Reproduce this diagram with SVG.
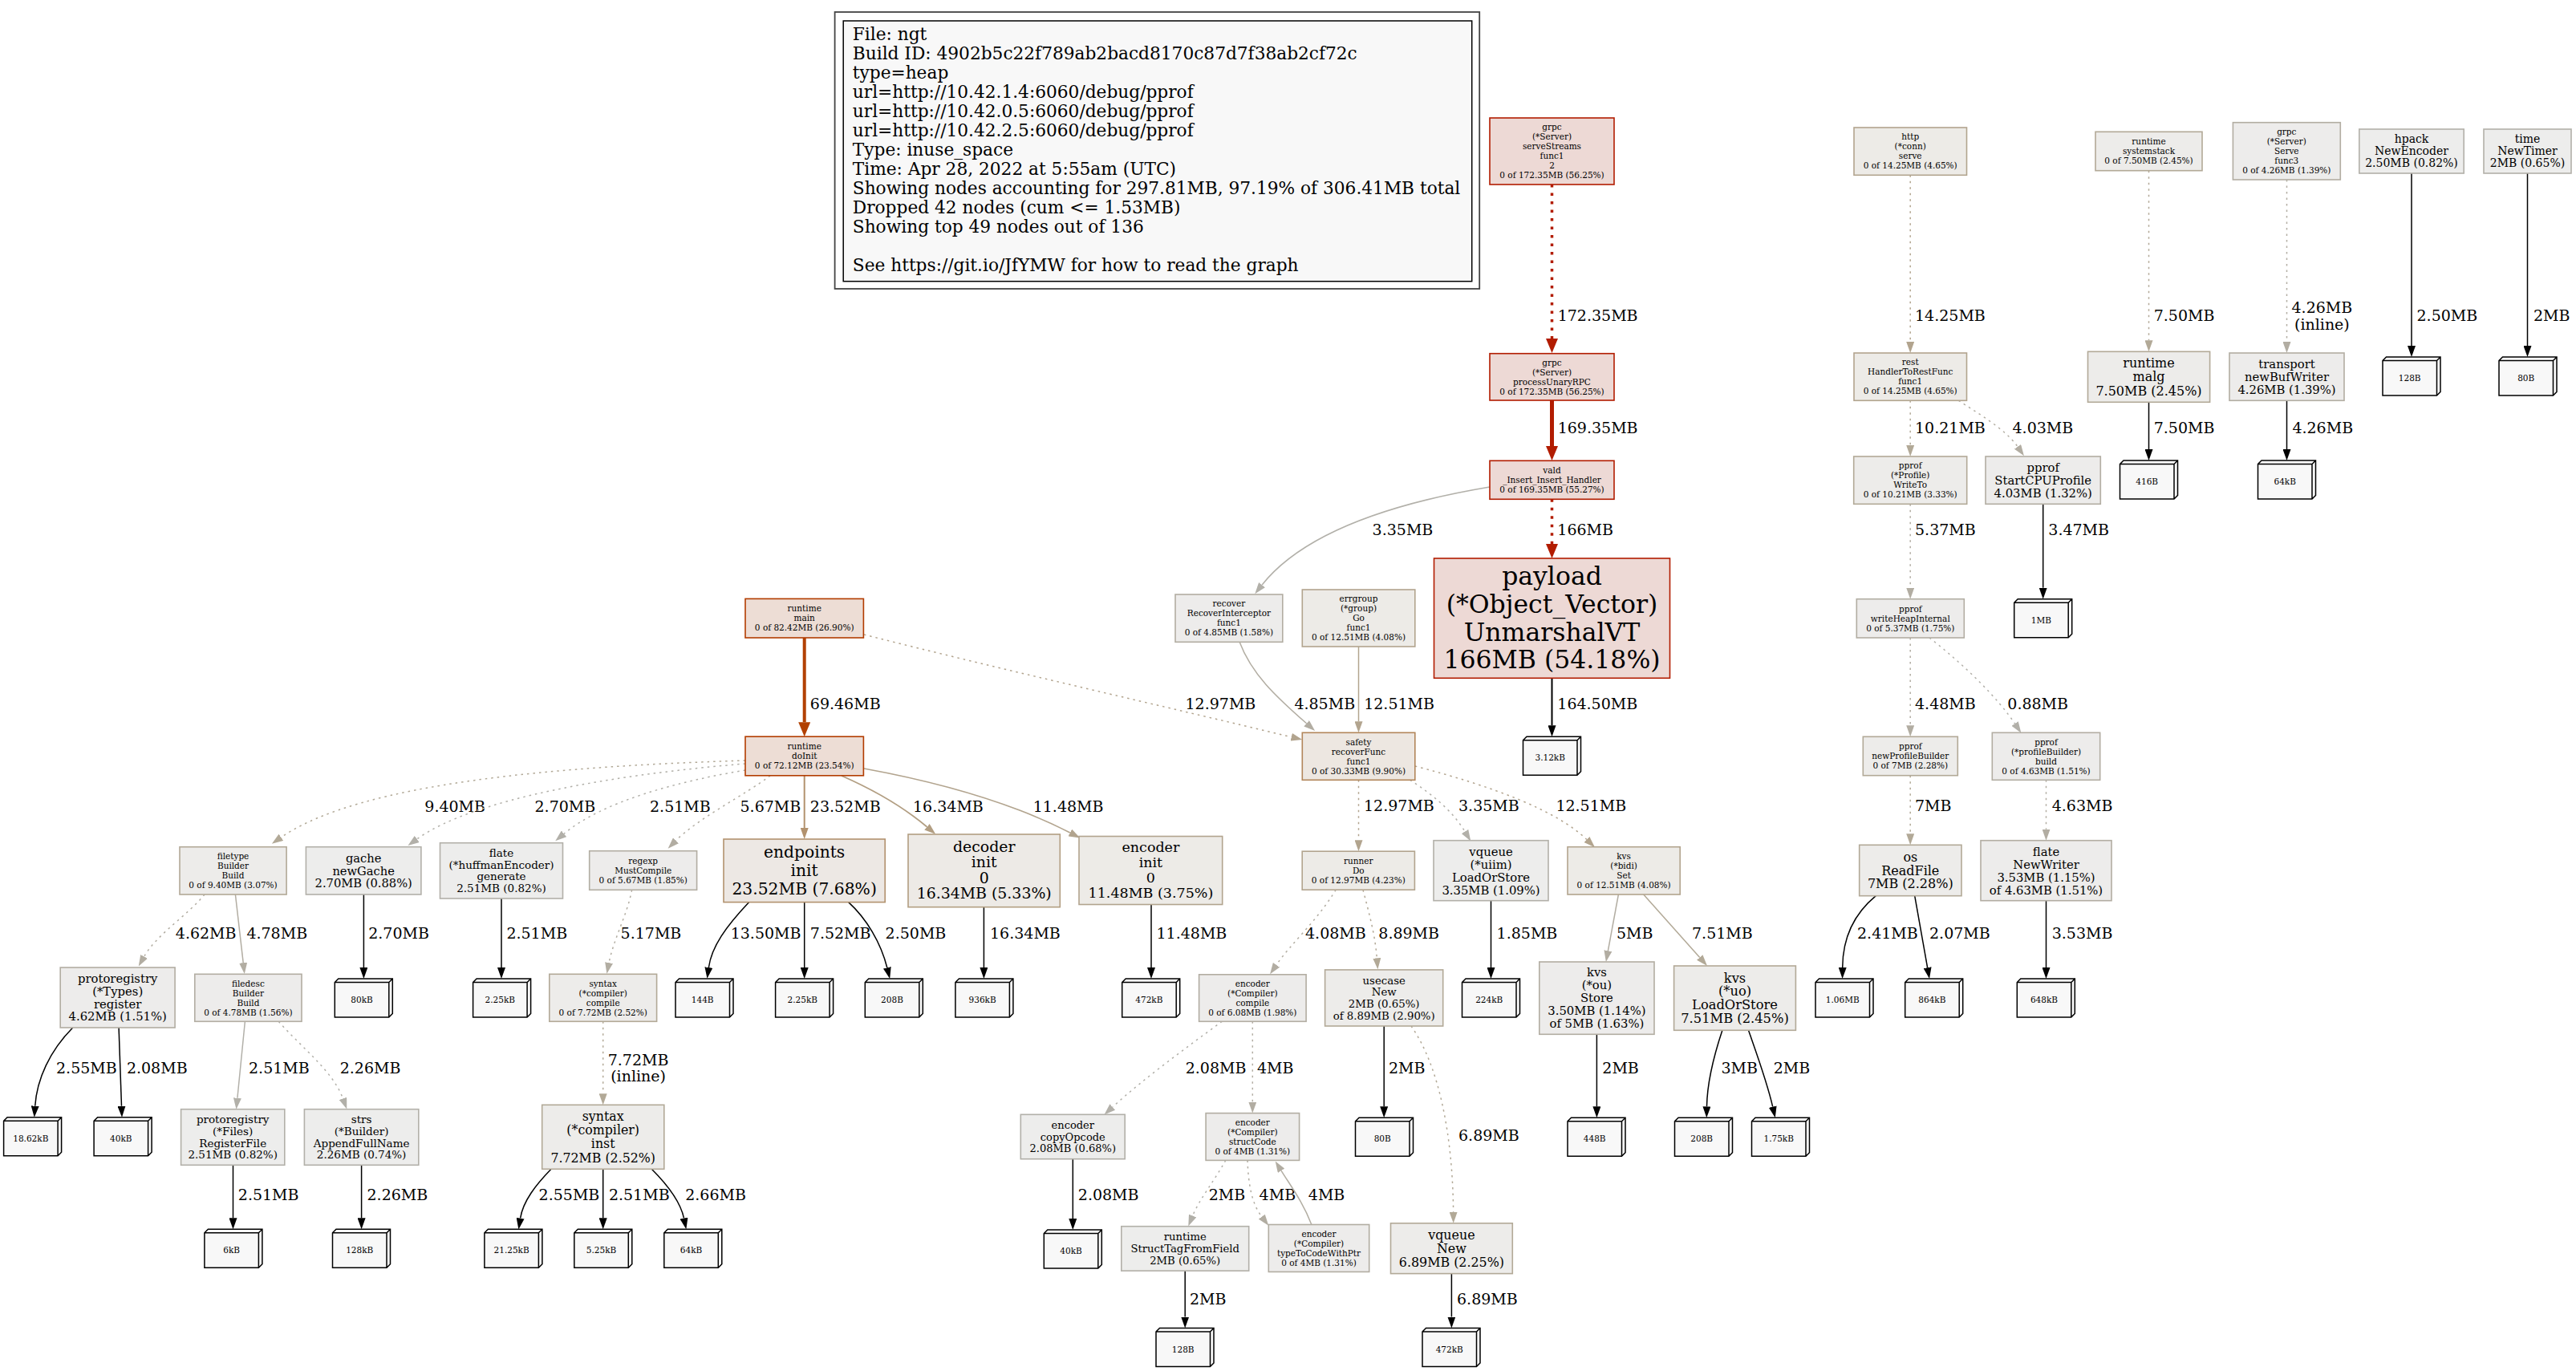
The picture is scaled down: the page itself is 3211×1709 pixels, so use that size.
<svg xmlns="http://www.w3.org/2000/svg" xmlns:xlink="http://www.w3.org/1999/xlink" width="3211" height="1709" viewBox="0 0 3211 1709">
<style>
text{font-family:"DejaVu Serif","Liberation Serif",serif;fill:#000}
.t{text-anchor:middle}
.f10{font-size:10.5px}.f13{font-size:13.3px}.f14{font-size:14px}.f15{font-size:14.8px}.f16{font-size:16px}.f17{font-size:17.5px}.f19{font-size:18.9px}.f20{font-size:20.3px}.f31{font-size:31.5px}
.el{font-size:19px}
.lg{font-size:21.7px}
rect.box{stroke-width:1.6}
.nR{fill:#edd9d5;stroke:#b21c00;stroke-width:2}
.nO{fill:#edddd5;stroke:#b23c00;stroke-width:2}
.nS{fill:#ede7e1;stroke:#b2865a}
.n1{fill:#ede8e4;stroke:#b2926e}
.n2{fill:#edeae6;stroke:#b29e82}
.n3{fill:#edebe7;stroke:#b2a48e}
.n4{fill:#edecea;stroke:#b2a997}
.n5{fill:#edeceb;stroke:#b2ada2}
.n6{fill:#ededec;stroke:#b2b0a9}
.leaf{fill:#f8f8f8;stroke:#000;stroke-width:1.5;stroke-linejoin:miter}
.e{fill:none;stroke-width:1.5}
.d{stroke-dasharray:2.5 5}
.dR{stroke-dasharray:3.5 7}
.cR{stroke:#b21c00}.cO{stroke:#b24000}.c1{stroke:#b2926e}.c2{stroke:#b29e82}.c3{stroke:#b2a48e}.c4{stroke:#b2a997}.c5{stroke:#b2ada2}.c6{stroke:#b2b0a9}.cK{stroke:#000}
</style>
<defs>
<marker id="mR" markerUnits="userSpaceOnUse" viewBox="0 -7.5 18 15" markerWidth="18" markerHeight="15" refX="0" refY="0" orient="auto"><path d="M0,-7.5 L18,0 L0,7.5 Z" fill="#b21c00"/></marker>
<marker id="mO" markerUnits="userSpaceOnUse" viewBox="0 -7.5 18 15" markerWidth="18" markerHeight="15" refX="0" refY="0" orient="auto"><path d="M0,-7.5 L18,0 L0,7.5 Z" fill="#b24000"/></marker>
<marker id="m1" markerUnits="userSpaceOnUse" viewBox="0 -5 14 10" markerWidth="14" markerHeight="10" refX="0" refY="0" orient="auto"><path d="M0,-5 L14,0 L0,5 Z" fill="#b2926e"/></marker>
<marker id="m2" markerUnits="userSpaceOnUse" viewBox="0 -5 14 10" markerWidth="14" markerHeight="10" refX="0" refY="0" orient="auto"><path d="M0,-5 L14,0 L0,5 Z" fill="#b29e82"/></marker>
<marker id="m3" markerUnits="userSpaceOnUse" viewBox="0 -5 14 10" markerWidth="14" markerHeight="10" refX="0" refY="0" orient="auto"><path d="M0,-5 L14,0 L0,5 Z" fill="#b2a48e"/></marker>
<marker id="m4" markerUnits="userSpaceOnUse" viewBox="0 -5 14 10" markerWidth="14" markerHeight="10" refX="0" refY="0" orient="auto"><path d="M0,-5 L14,0 L0,5 Z" fill="#b2a997"/></marker>
<marker id="m5" markerUnits="userSpaceOnUse" viewBox="0 -5 14 10" markerWidth="14" markerHeight="10" refX="0" refY="0" orient="auto"><path d="M0,-5 L14,0 L0,5 Z" fill="#b2ada2"/></marker>
<marker id="m6" markerUnits="userSpaceOnUse" viewBox="0 -5 14 10" markerWidth="14" markerHeight="10" refX="0" refY="0" orient="auto"><path d="M0,-5 L14,0 L0,5 Z" fill="#b2b0a9"/></marker>
<marker id="mK" markerUnits="userSpaceOnUse" viewBox="0 -5 14 10" markerWidth="14" markerHeight="10" refX="0" refY="0" orient="auto"><path d="M0,-5 L14,0 L0,5 Z" fill="#000"/></marker>
<path id="leaf" class="leaf" d="M0,4.5 L4.5,0 L72,0 L72,43.5 L67.5,48 L0,48 Z M0,4.5 L67.5,4.5 L72,0 M67.5,4.5 L67.5,48"/>
</defs>
<rect width="3211" height="1709" fill="#fff"/>

<g id="legend">
<rect x="1040.6" y="15" width="803.6" height="345" fill="none" stroke="#444" stroke-width="1.8"/>
<rect x="1051.2" y="26" width="783.5" height="324.7" fill="#f8f8f8" stroke="#000" stroke-width="1.5"/>
<text class="lg"><tspan x="1062.8" y="50">File: ngt</tspan><tspan x="1062.8" y="74">Build ID: 4902b5c22f789ab2bacd8170c87d7f38ab2cf72c</tspan><tspan x="1062.8" y="98">type=heap</tspan><tspan x="1062.8" y="122">url=http://10.42.1.4:6060/debug/pprof</tspan><tspan x="1062.8" y="146">url=http://10.42.0.5:6060/debug/pprof</tspan><tspan x="1062.8" y="170">url=http://10.42.2.5:6060/debug/pprof</tspan><tspan x="1062.8" y="194">Type: inuse_space</tspan><tspan x="1062.8" y="218">Time: Apr 28, 2022 at 5:55am (UTC)</tspan><tspan x="1062.8" y="242">Showing nodes accounting for 297.81MB, 97.19% of 306.41MB total</tspan><tspan x="1062.8" y="266">Dropped 42 nodes (cum &lt;= 1.53MB)</tspan><tspan x="1062.8" y="290">Showing top 49 nodes out of 136</tspan><tspan x="1062.8" y="338">See https://git.io/JfYMW for how to read the graph</tspan></text>
</g>

<g id="edges">
<g id="e1"><path class="e cR dR" style="stroke-width:3.5" d="M1934.5,230 V422" marker-end="url(#mR)"/><text class="el" x="1941.7" y="400">172.35MB</text></g>
<g id="e2"><path class="e cR" style="stroke-width:5" d="M1934.5,499 V556" marker-end="url(#mR)"/><text class="el" x="1941.7" y="540">169.35MB</text></g>
<g id="e3"><path class="e cR dR" style="stroke-width:3.5" d="M1934.5,622.3 V678" marker-end="url(#mR)"/><text class="el" x="1941.3" y="667">166MB</text></g>
<g id="e4"><path class="e c6" d="M1857,607 C1720,630 1620,670 1573,729.2" marker-end="url(#m6)"/><text class="el" x="1710.6" y="667">3.35MB</text></g>
<g id="e5"><path class="e cK" style="stroke-width:2" d="M1934.5,845.3 V904.3" marker-end="url(#mK)"/><text class="el" x="1941.3" y="883.5">164.50MB</text></g>
<g id="e6"><path class="e c5" d="M1545,800 C1560,840 1590,868 1628.6,901.8" marker-end="url(#m5)"/><text class="el" x="1613.4" y="883.5">4.85MB</text></g>
<g id="e7"><path class="e c3" d="M1693.5,806 V899.3" marker-end="url(#m3)"/><text class="el" x="1700.2" y="883.5">12.51MB</text></g>
<g id="e8"><path class="e cO" style="stroke-width:4" d="M1002.7,795 V900.2" marker-end="url(#mO)"/><text class="el" x="1009.8" y="883.5">69.46MB</text></g>
<g id="e9"><path class="e c3 d" d="M1077,791 C1250,835 1450,880 1609.7,918.8" marker-end="url(#m3)"/><text class="el" x="1477.5" y="883.5">12.97MB</text></g>
<g id="e10"><path class="e c1" style="stroke-width:2" d="M1002.7,966.8 V1032" marker-end="url(#m1)"/><text class="el" x="1009.8" y="1011.5">23.52MB</text></g>
<g id="e11"><path class="e c2" style="stroke-width:1.8" d="M1049,967 C1090,985 1125,1005 1155.5,1030.8" marker-end="url(#m2)"/><text class="el" x="1138" y="1011.5">16.34MB</text></g>
<g id="e12"><path class="e c3" style="stroke-width:1.6" d="M1077,958 C1170,975 1260,1000 1333.8,1038" marker-end="url(#m3)"/><text class="el" x="1287.7" y="1011.5">11.48MB</text></g>
<g id="e13"><path class="e c4 d" d="M929,948 C700,955 450,975 350.4,1043.8" marker-end="url(#m4)"/><text class="el" x="529.3" y="1011.5">9.40MB</text></g>
<g id="e14"><path class="e c6 d" d="M929,952 C770,965 590,995 519.8,1045.9" marker-end="url(#m6)"/><text class="el" x="666.5" y="1011.5">2.70MB</text></g>
<g id="e15"><path class="e c6 d" d="M929,960 C840,975 750,1000 703,1039.3" marker-end="url(#m6)"/><text class="el" x="810" y="1011.5">2.51MB</text></g>
<g id="e16"><path class="e c5 d" d="M960,967 C930,990 870,1020 842.5,1047.8" marker-end="url(#m5)"/><text class="el" x="922.5" y="1011.5">5.67MB</text></g>
<g id="e17"><path class="e cK" d="M933.7,1124.6 C905,1155 887,1180 883.4,1206" marker-end="url(#mK)"/><text class="el" x="910.7" y="1170">13.50MB</text></g>
<g id="e18"><path class="e cK" d="M1002.7,1124.6 V1206" marker-end="url(#mK)"/><text class="el" x="1009.8" y="1170">7.52MB</text></g>
<g id="e19"><path class="e cK" d="M1057.7,1124.6 C1080,1145 1098,1175 1105.8,1206.3" marker-end="url(#mK)"/><text class="el" x="1103.6" y="1170">2.50MB</text></g>
<g id="e20"><path class="e cK" d="M1226.4,1130.7 V1206" marker-end="url(#mK)"/><text class="el" x="1234" y="1170">16.34MB</text></g>
<g id="e21"><path class="e cK" d="M1435,1127.5 V1206" marker-end="url(#mK)"/><text class="el" x="1441.5" y="1170">11.48MB</text></g>
<g id="e22"><path class="e c5 d" d="M255,1115 C235,1140 195,1165 179.6,1192.4" marker-end="url(#m5)"/><text class="el" x="218.8" y="1170">4.62MB</text></g>
<g id="e23"><path class="e c5" d="M293.4,1115 L303.2,1200.1" marker-end="url(#m5)"/><text class="el" x="307.4" y="1170">4.78MB</text></g>
<g id="e24"><path class="e cK" d="M453.4,1115 V1206" marker-end="url(#mK)"/><text class="el" x="459.2" y="1170">2.70MB</text></g>
<g id="e25"><path class="e cK" d="M625,1120 V1206" marker-end="url(#mK)"/><text class="el" x="631.4" y="1170">2.51MB</text></g>
<g id="e26"><path class="e c5 d" d="M787.6,1109.3 C782,1140 765,1170 759.1,1200.1" marker-end="url(#m5)"/><text class="el" x="773.6" y="1170">5.17MB</text></g>
<g id="e27"><path class="e cK" d="M90.7,1281 C62,1310 46,1345 43.7,1378.7" marker-end="url(#mK)"/><text class="el" x="70" y="1338">2.55MB</text></g>
<g id="e28"><path class="e cK" d="M148.1,1281 L151.5,1378.7" marker-end="url(#mK)"/><text class="el" x="157.9" y="1338">2.08MB</text></g>
<g id="e29"><path class="e c6" d="M305.4,1273.3 L295.9,1368.8" marker-end="url(#m6)"/><text class="el" x="310" y="1338">2.51MB</text></g>
<g id="e30"><path class="e c6 d" d="M347.3,1273.3 C375,1305 415,1335 427.5,1369.4" marker-end="url(#m6)"/><text class="el" x="423.7" y="1338">2.26MB</text></g>
<g id="e31"><path class="e c4 d" d="M751.7,1273.3 V1363.3" marker-end="url(#m4)"/><text class="el t" x="795.6" y="1328.2">7.72MB</text><text class="el t" x="795.6" y="1348.2">(inline)</text></g>
<g id="e32"><path class="e cK" d="M290.5,1452.3 V1518.3" marker-end="url(#mK)"/><text class="el" x="296.8" y="1496">2.51MB</text></g>
<g id="e33"><path class="e cK" d="M450.6,1452.3 V1518.3" marker-end="url(#mK)"/><text class="el" x="457.5" y="1496">2.26MB</text></g>
<g id="e34"><path class="e cK" d="M687,1457.3 C668,1477 652,1497 648.6,1518.6" marker-end="url(#mK)"/><text class="el" x="671.6" y="1496">2.55MB</text></g>
<g id="e35"><path class="e cK" d="M751.7,1457.3 V1518.3" marker-end="url(#mK)"/><text class="el" x="758.9" y="1496">2.51MB</text></g>
<g id="e36"><path class="e cK" d="M812.3,1457.3 C832,1477 848,1497 852.5,1518.6" marker-end="url(#mK)"/><text class="el" x="854.2" y="1496">2.66MB</text></g>
<g id="e37"><path class="e c3 d" d="M1693.5,972.3 V1047.2" marker-end="url(#m3)"/><text class="el" x="1700" y="1011">12.97MB</text></g>
<g id="e38"><path class="e c6 d" d="M1757.6,972.3 C1785,990 1810,1010 1826,1036.5" marker-end="url(#m6)"/><text class="el" x="1818" y="1011">3.35MB</text></g>
<g id="e39"><path class="e c3 d" d="M1763.8,955 C1860,980 1940,1010 1977.9,1046.5" marker-end="url(#m3)"/><text class="el" x="1939.4" y="1011">12.51MB</text></g>
<g id="e40"><path class="e c5 d" d="M1665.2,1109.2 C1640,1150 1610,1175 1591,1202.8" marker-end="url(#m5)"/><text class="el" x="1627" y="1170">4.08MB</text></g>
<g id="e41"><path class="e c4 d" d="M1699,1109.2 C1707,1140 1714,1165 1716.3,1194.3" marker-end="url(#m4)"/><text class="el" x="1718.3" y="1170">8.89MB</text></g>
<g id="e42"><path class="e cK" d="M1858.5,1122.7 V1206" marker-end="url(#mK)"/><text class="el" x="1865.6" y="1170">1.85MB</text></g>
<g id="e43"><path class="e c5" d="M2017.4,1115 L2004.4,1185.2" marker-end="url(#m5)"/><text class="el" x="2015" y="1170">5MB</text></g>
<g id="e44"><path class="e c4" d="M2048.7,1115 L2118.7,1193.5" marker-end="url(#m4)"/><text class="el" x="2109" y="1170">7.51MB</text></g>
<g id="e45"><path class="e cK" d="M1990.4,1289.3 V1379.3" marker-end="url(#mK)"/><text class="el" x="1997.3" y="1338">2MB</text></g>
<g id="e46"><path class="e cK" d="M2146.9,1284.3 C2135,1320 2128,1350 2127.5,1379.3" marker-end="url(#mK)"/><text class="el" x="2145.5" y="1338">3MB</text></g>
<g id="e47"><path class="e cK" d="M2179.5,1284.3 C2192,1320 2203,1350 2209.7,1379.6" marker-end="url(#mK)"/><text class="el" x="2210.7" y="1338">2MB</text></g>
<g id="e48"><path class="e cK" d="M1725.2,1279 V1379.3" marker-end="url(#mK)"/><text class="el" x="1731" y="1338">2MB</text></g>
<g id="e49"><path class="e c4 d" d="M1759,1279 C1795,1330 1811,1420 1811.6,1510.8" marker-end="url(#m4)"/><text class="el" x="1818" y="1422">6.89MB</text></g>
<g id="e50"><path class="e c6 d" d="M1523.2,1273.3 C1480,1305 1425,1345 1386.8,1380" marker-end="url(#m6)"/><text class="el" x="1477.7" y="1338">2.08MB</text></g>
<g id="e51"><path class="e c5 d" d="M1561.3,1273.3 V1373.6" marker-end="url(#m5)"/><text class="el" x="1567" y="1338">4MB</text></g>
<g id="e52"><path class="e cK" d="M1337.3,1444.7 V1519" marker-end="url(#mK)"/><text class="el" x="1343.8" y="1496">2.08MB</text></g>
<g id="e53"><path class="e c6 d" d="M1527.7,1446.4 C1515,1470 1495,1495 1486.6,1515.5" marker-end="url(#m6)"/><text class="el" x="1506.7" y="1496">2MB</text></g>
<g id="e54"><path class="e c5 d" d="M1555,1446.4 C1556,1475 1560,1500 1572.8,1516.7" marker-end="url(#m5)"/><text class="el" x="1569.6" y="1496">4MB</text></g>
<g id="e55"><path class="e c5" d="M1634.8,1526.5 C1625,1500 1610,1480 1597.1,1459.3" marker-end="url(#m5)"/><text class="el" x="1630.8" y="1496">4MB</text></g>
<g id="e56"><path class="e cK" d="M1477.2,1584.1 V1641.5" marker-end="url(#mK)"/><text class="el" x="1483" y="1626">2MB</text></g>
<g id="e57"><path class="e cK" d="M1809.4,1587.6 V1641.5" marker-end="url(#mK)"/><text class="el" x="1816" y="1626">6.89MB</text></g>
<g id="e58"><path class="e c3 d" d="M2381.2,218.3 V426" marker-end="url(#m3)"/><text class="el" x="2387" y="400">14.25MB</text></g>
<g id="e59"><path class="e c4 d" d="M2381.2,499.3 V555" marker-end="url(#m4)"/><text class="el" x="2387" y="540">10.21MB</text></g>
<g id="e60"><path class="e c5 d" d="M2441.5,499.3 C2465,515 2500,535 2515,556.8" marker-end="url(#m5)"/><text class="el" x="2508.5" y="540">4.03MB</text></g>
<g id="e61"><path class="e c4 d" d="M2678.5,212.7 V424.3" marker-end="url(#m4)"/><text class="el" x="2684.7" y="400">7.50MB</text></g>
<g id="e62"><path class="e cK" d="M2678.5,501.3 V560" marker-end="url(#mK)"/><text class="el" x="2684.7" y="540">7.50MB</text></g>
<g id="e63"><path class="e c5 d" d="M2850.5,224 V426" marker-end="url(#m5)"/><text class="el t" x="2894.4" y="390">4.26MB</text><text class="el t" x="2894.4" y="411">(inline)</text></g>
<g id="e64"><path class="e cK" d="M2850.5,499.3 V560" marker-end="url(#mK)"/><text class="el" x="2857.4" y="540">4.26MB</text></g>
<g id="e65"><path class="e cK" d="M3006,216 V431" marker-end="url(#mK)"/><text class="el" x="3012.5" y="400">2.50MB</text></g>
<g id="e66"><path class="e cK" d="M3150.5,216 V431" marker-end="url(#mK)"/><text class="el" x="3158" y="400">2MB</text></g>
<g id="e67"><path class="e c5 d" d="M2381.2,628.3 V732.7" marker-end="url(#m5)"/><text class="el" x="2387" y="667">5.37MB</text></g>
<g id="e68"><path class="e cK" d="M2546.7,628.3 V732.7" marker-end="url(#mK)"/><text class="el" x="2553.3" y="667">3.47MB</text></g>
<g id="e69"><path class="e c5 d" d="M2381.2,795 V904.3" marker-end="url(#m5)"/><text class="el" x="2387" y="883.5">4.48MB</text></g>
<g id="e70"><path class="e c6 d" d="M2405,795 C2450,830 2490,870 2511.6,902.1" marker-end="url(#m6)"/><text class="el" x="2502.3" y="883.5">0.88MB</text></g>
<g id="e71"><path class="e c4 d" d="M2381.2,966.7 V1039.3" marker-end="url(#m4)"/><text class="el" x="2387" y="1011">7MB</text></g>
<g id="e72"><path class="e c5 d" d="M2550.5,972.3 V1033.7" marker-end="url(#m5)"/><text class="el" x="2557.7" y="1011">4.63MB</text></g>
<g id="e73"><path class="e cK" d="M2338.3,1116.7 C2310,1140 2297,1170 2296.7,1206" marker-end="url(#mK)"/><text class="el" x="2315" y="1170">2.41MB</text></g>
<g id="e74"><path class="e cK" d="M2386.7,1116.7 L2402.6,1206.2" marker-end="url(#mK)"/><text class="el" x="2405" y="1170">2.07MB</text></g>
<g id="e75"><path class="e cK" d="M2550.5,1122.7 V1206" marker-end="url(#mK)"/><text class="el" x="2557.7" y="1170">3.53MB</text></g>
</g>

<g id="nodes">
<g id="n_serveStreams"><rect class="box nR" x="1857" y="147" width="155" height="83"/><text class="t f10"><tspan x="1934.5" y="162.2">grpc</tspan><tspan x="1934.5" y="174.2">(*Server)</tspan><tspan x="1934.5" y="186.2">serveStreams</tspan><tspan x="1934.5" y="198.2">func1</tspan><tspan x="1934.5" y="210.2">2</tspan><tspan x="1934.5" y="222.2">0 of 172.35MB (56.25%)</tspan></text></g>
<g id="n_processUnaryRPC"><rect class="box nR" x="1857" y="440.7" width="155" height="58.3"/><text class="t f10"><tspan x="1934.5" y="455.5">grpc</tspan><tspan x="1934.5" y="467.5">(*Server)</tspan><tspan x="1934.5" y="479.5">processUnaryRPC</tspan><tspan x="1934.5" y="491.5">0 of 172.35MB (56.25%)</tspan></text></g>
<g id="n_vald"><rect class="box nR" x="1857" y="574.3" width="155" height="48"/><text class="t f10"><tspan x="1934.5" y="590">vald</tspan><tspan x="1934.5" y="602">_Insert_Insert_Handler</tspan><tspan x="1934.5" y="614">0 of 169.35MB (55.27%)</tspan></text></g>
<g id="n_payload"><rect class="box nR" x="1787.5" y="696" width="294" height="149.3"/><text class="t f31"><tspan x="1934.5" y="729">payload</tspan><tspan x="1934.5" y="763.8">(*Object_Vector)</tspan><tspan x="1934.5" y="798.6">UnmarshalVT</tspan><tspan x="1934.5" y="833.4">166MB (54.18%)</tspan></text></g>
<g id="n_recover"><rect class="box n5" x="1465" y="741" width="133.8" height="59.3"/><text class="t f10"><tspan x="1531.9" y="756.4">recover</tspan><tspan x="1531.9" y="768.4">RecoverInterceptor</tspan><tspan x="1531.9" y="780.4">func1</tspan><tspan x="1531.9" y="792.4">0 of 4.85MB (1.58%)</tspan></text></g>
<g id="n_errgroup"><rect class="box n3" x="1623.3" y="735" width="140.5" height="71"/><text class="t f10"><tspan x="1693.5" y="750.2">errgroup</tspan><tspan x="1693.5" y="762.2">(*group)</tspan><tspan x="1693.5" y="774.2">Go</tspan><tspan x="1693.5" y="786.2">func1</tspan><tspan x="1693.5" y="798.2">0 of 12.51MB (4.08%)</tspan></text></g>
<g id="n_safety"><rect class="box nS" x="1623.3" y="913.3" width="140.5" height="59"/><text class="t f10"><tspan x="1693.5" y="928.5">safety</tspan><tspan x="1693.5" y="940.5">recoverFunc</tspan><tspan x="1693.5" y="952.5">func1</tspan><tspan x="1693.5" y="964.5">0 of 30.33MB (9.90%)</tspan></text></g>
<g id="n_runtime_main"><rect class="box nO" x="929" y="746.4" width="147.4" height="48.6"/><text class="t f10"><tspan x="1002.7" y="762.4">runtime</tspan><tspan x="1002.7" y="774.4">main</tspan><tspan x="1002.7" y="786.4">0 of 82.42MB (26.90%)</tspan></text></g>
<g id="n_doInit"><rect class="box nO" x="929" y="918.2" width="147.4" height="48.6"/><text class="t f10"><tspan x="1002.7" y="934.2">runtime</tspan><tspan x="1002.7" y="946.2">doInit</tspan><tspan x="1002.7" y="958.2">0 of 72.12MB (23.54%)</tspan></text></g>
<g id="n_endpoints_init"><rect class="box n1" x="902" y="1046" width="201.2" height="78.6"/><text class="t f20"><tspan x="1002.6" y="1069.3">endpoints</tspan><tspan x="1002.6" y="1091.9">init</tspan><tspan x="1002.6" y="1114.5">23.52MB (7.68%)</tspan></text></g>
<g id="n_decoder_init"><rect class="box n2" x="1132" y="1040" width="189.3" height="90.7"/><text class="t f19"><tspan x="1226.7" y="1061.5">decoder</tspan><tspan x="1226.7" y="1081.1">init</tspan><tspan x="1226.7" y="1100.7">0</tspan><tspan x="1226.7" y="1120.3">16.34MB (5.33%)</tspan></text></g>
<g id="n_encoder_init"><rect class="box n3" x="1345" y="1042.5" width="178.7" height="85"/><text class="t f17"><tspan x="1434.4" y="1062">encoder</tspan><tspan x="1434.4" y="1081">init</tspan><tspan x="1434.4" y="1100">0</tspan><tspan x="1434.4" y="1119">11.48MB (3.75%)</tspan></text></g>
<g id="n_filetype"><rect class="box n4" x="224" y="1055.7" width="133.1" height="59.3"/><text class="t f10"><tspan x="290.5" y="1071">filetype</tspan><tspan x="290.5" y="1083">Builder</tspan><tspan x="290.5" y="1095">Build</tspan><tspan x="290.5" y="1107">0 of 9.40MB (3.07%)</tspan></text></g>
<g id="n_gache"><rect class="box n6" x="381.4" y="1055.7" width="143.5" height="59.3"/><text class="t" style="font-size:14.7px"><tspan x="453.2" y="1074.6">gache</tspan><tspan x="453.2" y="1090.5">newGache</tspan><tspan x="453.2" y="1106.4">2.70MB (0.88%)</tspan></text></g>
<g id="n_flate_huffman"><rect class="box n6" x="548.5" y="1050.7" width="153" height="69.3"/><text class="t" style="font-size:13.5px"><tspan x="625" y="1068">flate</tspan><tspan x="625" y="1082.7">(*huffmanEncoder)</tspan><tspan x="625" y="1097.4">generate</tspan><tspan x="625" y="1112.1">2.51MB (0.82%)</tspan></text></g>
<g id="n_regexp"><rect class="box n5" x="734.7" y="1060.7" width="133.9" height="48.6"/><text class="t f10"><tspan x="801.7" y="1076.7">regexp</tspan><tspan x="801.7" y="1088.7">MustCompile</tspan><tspan x="801.7" y="1100.7">0 of 5.67MB (1.85%)</tspan></text></g>
<g id="n_register"><rect class="box n5" x="75.2" y="1206" width="142.9" height="75"/><text class="t f15"><tspan x="146.7" y="1225">protoregistry</tspan><tspan x="146.7" y="1240.8">(*Types)</tspan><tspan x="146.7" y="1256.6">register</tspan><tspan x="146.7" y="1272.4">4.62MB (1.51%)</tspan></text></g>
<g id="n_filedesc"><rect class="box n5" x="242.8" y="1214.3" width="133.2" height="59"/><text class="t f10"><tspan x="309.4" y="1229.5">filedesc</tspan><tspan x="309.4" y="1241.5">Builder</tspan><tspan x="309.4" y="1253.5">Build</tspan><tspan x="309.4" y="1265.5">0 of 4.78MB (1.56%)</tspan></text></g>
<g id="n_syntax_compile"><rect class="box n4" x="684.8" y="1214.3" width="133.8" height="59"/><text class="t f10"><tspan x="751.7" y="1229.5">syntax</tspan><tspan x="751.7" y="1241.5">(*compiler)</tspan><tspan x="751.7" y="1253.5">compile</tspan><tspan x="751.7" y="1265.5">0 of 7.72MB (2.52%)</tspan></text></g>
<g id="n_RegisterFile"><rect class="box n6" x="225.6" y="1382.7" width="129.2" height="69.6"/><text class="t" style="font-size:13.5px"><tspan x="290.2" y="1400.2">protoregistry</tspan><tspan x="290.2" y="1414.9">(*Files)</tspan><tspan x="290.2" y="1429.6">RegisterFile</tspan><tspan x="290.2" y="1444.3">2.51MB (0.82%)</tspan></text></g>
<g id="n_strs"><rect class="box n6" x="379.4" y="1382.7" width="142.4" height="69.6"/><text class="t" style="font-size:13.5px"><tspan x="450.6" y="1400.2">strs</tspan><tspan x="450.6" y="1414.9">(*Builder)</tspan><tspan x="450.6" y="1429.6">AppendFullName</tspan><tspan x="450.6" y="1444.3">2.26MB (0.74%)</tspan></text></g>
<g id="n_syntax_inst"><rect class="box n4" x="675.7" y="1377.3" width="152.1" height="80"/><text class="t" style="font-size:15.8px"><tspan x="751.7" y="1397">syntax</tspan><tspan x="751.7" y="1414.2">(*compiler)</tspan><tspan x="751.7" y="1431.4">inst</tspan><tspan x="751.7" y="1448.6">7.72MB (2.52%)</tspan></text></g>
<g id="n_runner"><rect class="box n3" x="1623.2" y="1061.2" width="140.2" height="48"/><text class="t f10"><tspan x="1693.3" y="1076.9">runner</tspan><tspan x="1693.3" y="1088.9">Do</tspan><tspan x="1693.3" y="1100.9">0 of 12.97MB (4.23%)</tspan></text></g>
<g id="n_vqueue_uiim"><rect class="box n6" x="1787" y="1047.7" width="143" height="75"/><text class="t f15"><tspan x="1858.5" y="1066.5">vqueue</tspan><tspan x="1858.5" y="1082.5">(*uiim)</tspan><tspan x="1858.5" y="1098.5">LoadOrStore</tspan><tspan x="1858.5" y="1114.5">3.35MB (1.09%)</tspan></text></g>
<g id="n_kvs_bidi"><rect class="box n3" x="1954" y="1055.7" width="140.2" height="59.3"/><text class="t f10"><tspan x="2024.1" y="1071">kvs</tspan><tspan x="2024.1" y="1083">(*bidi)</tspan><tspan x="2024.1" y="1095">Set</tspan><tspan x="2024.1" y="1107">0 of 12.51MB (4.08%)</tspan></text></g>
<g id="n_encoder_compile"><rect class="box n5" x="1494.6" y="1214.8" width="133.5" height="58.5"/><text class="t f10"><tspan x="1561.3" y="1229.7">encoder</tspan><tspan x="1561.3" y="1241.7">(*Compiler)</tspan><tspan x="1561.3" y="1253.7">compile</tspan><tspan x="1561.3" y="1265.7">0 of 6.08MB (1.98%)</tspan></text></g>
<g id="n_usecase"><rect class="box n4" x="1651.6" y="1208.9" width="147.1" height="70.1"/><text class="t f13"><tspan x="1725.2" y="1226.6">usecase</tspan><tspan x="1725.2" y="1241.3">New</tspan><tspan x="1725.2" y="1256">2MB (0.65%)</tspan><tspan x="1725.2" y="1270.7">of 8.89MB (2.90%)</tspan></text></g>
<g id="n_kvs_ou"><rect class="box n5" x="1918.8" y="1199" width="143.2" height="90.3"/><text class="t f15"><tspan x="1990.4" y="1217.4">kvs</tspan><tspan x="1990.4" y="1233.4">(*ou)</tspan><tspan x="1990.4" y="1249.4">Store</tspan><tspan x="1990.4" y="1265.4">3.50MB (1.14%)</tspan><tspan x="1990.4" y="1281.4">of 5MB (1.63%)</tspan></text></g>
<g id="n_kvs_uo"><rect class="box n4" x="2086.6" y="1204" width="151.8" height="80.3"/><text class="t" style="font-size:16.3px"><tspan x="2162.5" y="1224.5">kvs</tspan><tspan x="2162.5" y="1241.4">(*uo)</tspan><tspan x="2162.5" y="1258.3">LoadOrStore</tspan><tspan x="2162.5" y="1275.2">7.51MB (2.45%)</tspan></text></g>
<g id="n_copyOpcode"><rect class="box n6" x="1272.3" y="1389.3" width="129.9" height="55.4"/><text class="t" style="font-size:13px"><tspan x="1337.3" y="1406.9">encoder</tspan><tspan x="1337.3" y="1421.6">copyOpcode</tspan><tspan x="1337.3" y="1436.3">2.08MB (0.68%)</tspan></text></g>
<g id="n_structCode"><rect class="box n5" x="1503.1" y="1387.6" width="116.5" height="58.8"/><text class="t f10"><tspan x="1561.3" y="1402.7">encoder</tspan><tspan x="1561.3" y="1414.7">(*Compiler)</tspan><tspan x="1561.3" y="1426.7">structCode</tspan><tspan x="1561.3" y="1438.7">0 of 4MB (1.31%)</tspan></text></g>
<g id="n_StructTagFromField"><rect class="box n6" x="1397.8" y="1528.7" width="158.9" height="55.4"/><text class="t" style="font-size:13.2px"><tspan x="1477.2" y="1546.3">runtime</tspan><tspan x="1477.2" y="1561">StructTagFromField</tspan><tspan x="1477.2" y="1575.7">2MB (0.65%)</tspan></text></g>
<g id="n_typeToCodeWithPtr"><rect class="box n5" x="1581.3" y="1526.5" width="125.4" height="58.9"/><text class="t f10"><tspan x="1644" y="1541.7">encoder</tspan><tspan x="1644" y="1553.7">(*Compiler)</tspan><tspan x="1644" y="1565.7">typeToCodeWithPtr</tspan><tspan x="1644" y="1577.7">0 of 4MB (1.31%)</tspan></text></g>
<g id="n_vqueue_New"><rect class="box n4" x="1733.5" y="1524.8" width="151.8" height="62.8"/><text class="t" style="font-size:15.9px"><tspan x="1809.4" y="1544.5">vqueue</tspan><tspan x="1809.4" y="1561.8">New</tspan><tspan x="1809.4" y="1579.1">6.89MB (2.25%)</tspan></text></g>
<g id="n_http_serve"><rect class="box n3" x="2311" y="159" width="140.5" height="59.3"/><text class="t f10"><tspan x="2381.2" y="174.4">http</tspan><tspan x="2381.2" y="186.4">(*conn)</tspan><tspan x="2381.2" y="198.4">serve</tspan><tspan x="2381.2" y="210.4">0 of 14.25MB (4.65%)</tspan></text></g>
<g id="n_rest"><rect class="box n3" x="2311" y="440" width="140.5" height="59.3"/><text class="t f10"><tspan x="2381.2" y="455.4">rest</tspan><tspan x="2381.2" y="467.4">HandlerToRestFunc</tspan><tspan x="2381.2" y="479.4">func1</tspan><tspan x="2381.2" y="491.4">0 of 14.25MB (4.65%)</tspan></text></g>
<g id="n_systemstack"><rect class="box n4" x="2612" y="164.3" width="133" height="48.4"/><text class="t f10"><tspan x="2678.5" y="180.2">runtime</tspan><tspan x="2678.5" y="192.2">systemstack</tspan><tspan x="2678.5" y="204.2">0 of 7.50MB (2.45%)</tspan></text></g>
<g id="n_malg"><rect class="box n4" x="2602.5" y="438.3" width="152.1" height="63"/><text class="t f16"><tspan x="2678.5" y="457.9">runtime</tspan><tspan x="2678.5" y="475.4">malg</tspan><tspan x="2678.5" y="492.9">7.50MB (2.45%)</tspan></text></g>
<g id="n_Serve_func3"><rect class="box n5" x="2783.4" y="152.7" width="133.9" height="71.3"/><text class="t f10"><tspan x="2850.3" y="168">grpc</tspan><tspan x="2850.3" y="180">(*Server)</tspan><tspan x="2850.3" y="192">Serve</tspan><tspan x="2850.3" y="204">func3</tspan><tspan x="2850.3" y="216">0 of 4.26MB (1.39%)</tspan></text></g>
<g id="n_newBufWriter"><rect class="box n5" x="2779" y="440" width="143" height="59.3"/><text class="t f15"><tspan x="2850.5" y="458.9">transport</tspan><tspan x="2850.5" y="474.9">newBufWriter</tspan><tspan x="2850.5" y="490.9">4.26MB (1.39%)</tspan></text></g>
<g id="n_hpack"><rect class="box n6" x="2940.8" y="161" width="130.4" height="55"/><text class="t f14"><tspan x="3006" y="178.4">hpack</tspan><tspan x="3006" y="193.4">NewEncoder</tspan><tspan x="3006" y="208.4">2.50MB (0.82%)</tspan></text></g>
<g id="n_time"><rect class="box n6" x="3096" y="161" width="109" height="55"/><text class="t f14"><tspan x="3150.5" y="178.4">time</tspan><tspan x="3150.5" y="193.4">NewTimer</tspan><tspan x="3150.5" y="208.4">2MB (0.65%)</tspan></text></g>
<g id="n_WriteTo"><rect class="box n4" x="2310.7" y="569" width="141" height="59.3"/><text class="t f10"><tspan x="2381.2" y="584.4">pprof</tspan><tspan x="2381.2" y="596.4">(*Profile)</tspan><tspan x="2381.2" y="608.4">WriteTo</tspan><tspan x="2381.2" y="620.4">0 of 10.21MB (3.33%)</tspan></text></g>
<g id="n_StartCPUProfile"><rect class="box n5" x="2475" y="569" width="143.3" height="59.3"/><text class="t f15"><tspan x="2546.7" y="587.9">pprof</tspan><tspan x="2546.7" y="603.9">StartCPUProfile</tspan><tspan x="2546.7" y="619.9">4.03MB (1.32%)</tspan></text></g>
<g id="n_writeHeapInternal"><rect class="box n5" x="2314.3" y="746.7" width="134" height="48.3"/><text class="t f10"><tspan x="2381.3" y="762.6">pprof</tspan><tspan x="2381.3" y="774.6">writeHeapInternal</tspan><tspan x="2381.3" y="786.6">0 of 5.37MB (1.75%)</tspan></text></g>
<g id="n_newProfileBuilder"><rect class="box n4" x="2322.3" y="918.3" width="118" height="48.4"/><text class="t f10"><tspan x="2381.3" y="934.2">pprof</tspan><tspan x="2381.3" y="946.2">newProfileBuilder</tspan><tspan x="2381.3" y="958.2">0 of 7MB (2.28%)</tspan></text></g>
<g id="n_profileBuilder_build"><rect class="box n5" x="2483.3" y="913.3" width="134.4" height="59"/><text class="t f10"><tspan x="2550.5" y="928.5">pprof</tspan><tspan x="2550.5" y="940.5">(*profileBuilder)</tspan><tspan x="2550.5" y="952.5">build</tspan><tspan x="2550.5" y="964.5">0 of 4.63MB (1.51%)</tspan></text></g>
<g id="n_ReadFile"><rect class="box n4" x="2317.7" y="1053.3" width="127.3" height="63.4"/><text class="t f16"><tspan x="2381.3" y="1073.9">os</tspan><tspan x="2381.3" y="1090.6">ReadFile</tspan><tspan x="2381.3" y="1107.3">7MB (2.28%)</tspan></text></g>
<g id="n_NewWriter"><rect class="box n5" x="2469" y="1047.7" width="163" height="75"/><text class="t f15"><tspan x="2550.5" y="1066.5">flate</tspan><tspan x="2550.5" y="1082.5">NewWriter</tspan><tspan x="2550.5" y="1098.5">3.53MB (1.15%)</tspan><tspan x="2550.5" y="1114.5">of 4.63MB (1.51%)</tspan></text></g>

<g id="l_3_12kB"><use href="#leaf" x="1898.5" y="918.3"/><text class="t f10" x="1932.2" y="948.3">3.12kB</text></g>
<g id="l_128B_hpack"><use href="#leaf" x="2970" y="445"/><text class="t f10" x="3003.7" y="475">128B</text></g>
<g id="l_80B_time"><use href="#leaf" x="3115" y="445"/><text class="t f10" x="3148.7" y="475">80B</text></g>
<g id="l_416B"><use href="#leaf" x="2642.5" y="574"/><text class="t f10" x="2676.2" y="604">416B</text></g>
<g id="l_64kB_buf"><use href="#leaf" x="2814.5" y="574"/><text class="t f10" x="2848.2" y="604">64kB</text></g>
<g id="l_1MB"><use href="#leaf" x="2510.7" y="746.7"/><text class="t f10" x="2544.4" y="776.7">1MB</text></g>
<g id="l_1_06MB"><use href="#leaf" x="2263" y="1220"/><text class="t f10" x="2296.7" y="1250">1.06MB</text></g>
<g id="l_864kB"><use href="#leaf" x="2374.7" y="1220"/><text class="t f10" x="2408.4" y="1250">864kB</text></g>
<g id="l_648kB"><use href="#leaf" x="2514.3" y="1220"/><text class="t f10" x="2548" y="1250">648kB</text></g>
<g id="l_80kB"><use href="#leaf" x="417.3" y="1220"/><text class="t f10" x="451" y="1250">80kB</text></g>
<g id="l_2_25kB_a"><use href="#leaf" x="589.6" y="1220"/><text class="t f10" x="623.3" y="1250">2.25kB</text></g>
<g id="l_144B"><use href="#leaf" x="842" y="1220"/><text class="t f10" x="875.7" y="1250">144B</text></g>
<g id="l_2_25kB_b"><use href="#leaf" x="966.6" y="1220"/><text class="t f10" x="1000.3" y="1250">2.25kB</text></g>
<g id="l_208B_a"><use href="#leaf" x="1078.3" y="1220"/><text class="t f10" x="1112" y="1250">208B</text></g>
<g id="l_936kB"><use href="#leaf" x="1190.9" y="1220"/><text class="t f10" x="1224.6" y="1250">936kB</text></g>
<g id="l_472kB_a"><use href="#leaf" x="1398.7" y="1220"/><text class="t f10" x="1432.4" y="1250">472kB</text></g>
<g id="l_224kB"><use href="#leaf" x="1822.5" y="1220"/><text class="t f10" x="1856.2" y="1250">224kB</text></g>
<g id="l_18_62kB"><use href="#leaf" x="4.6" y="1392.7"/><text class="t f10" x="38.3" y="1422.7">18.62kB</text></g>
<g id="l_40kB_a"><use href="#leaf" x="117.1" y="1392.7"/><text class="t f10" x="150.8" y="1422.7">40kB</text></g>
<g id="l_6kB"><use href="#leaf" x="254.9" y="1532.3"/><text class="t f10" x="288.6" y="1562.3">6kB</text></g>
<g id="l_128kB"><use href="#leaf" x="414.5" y="1532.3"/><text class="t f10" x="448.2" y="1562.3">128kB</text></g>
<g id="l_21_25kB"><use href="#leaf" x="603.9" y="1532.3"/><text class="t f10" x="637.6" y="1562.3">21.25kB</text></g>
<g id="l_5_25kB"><use href="#leaf" x="715.8" y="1532.3"/><text class="t f10" x="749.5" y="1562.3">5.25kB</text></g>
<g id="l_64kB_inst"><use href="#leaf" x="827.8" y="1532.3"/><text class="t f10" x="861.5" y="1562.3">64kB</text></g>
<g id="l_40kB_b"><use href="#leaf" x="1301.3" y="1533"/><text class="t f10" x="1335" y="1563">40kB</text></g>
<g id="l_80B_usecase"><use href="#leaf" x="1689.5" y="1393.3"/><text class="t f10" x="1723.2" y="1423.3">80B</text></g>
<g id="l_448B"><use href="#leaf" x="1954" y="1393.3"/><text class="t f10" x="1987.7" y="1423.3">448B</text></g>
<g id="l_208B_b"><use href="#leaf" x="2087.5" y="1393.3"/><text class="t f10" x="2121.2" y="1423.3">208B</text></g>
<g id="l_1_75kB"><use href="#leaf" x="2183.5" y="1393.3"/><text class="t f10" x="2217.2" y="1423.3">1.75kB</text></g>
<g id="l_128B_tag"><use href="#leaf" x="1441" y="1655.5"/><text class="t f10" x="1474.7" y="1685.5">128B</text></g>
<g id="l_472kB_b"><use href="#leaf" x="1773" y="1655.5"/><text class="t f10" x="1806.7" y="1685.5">472kB</text></g>
</g>
</svg>
